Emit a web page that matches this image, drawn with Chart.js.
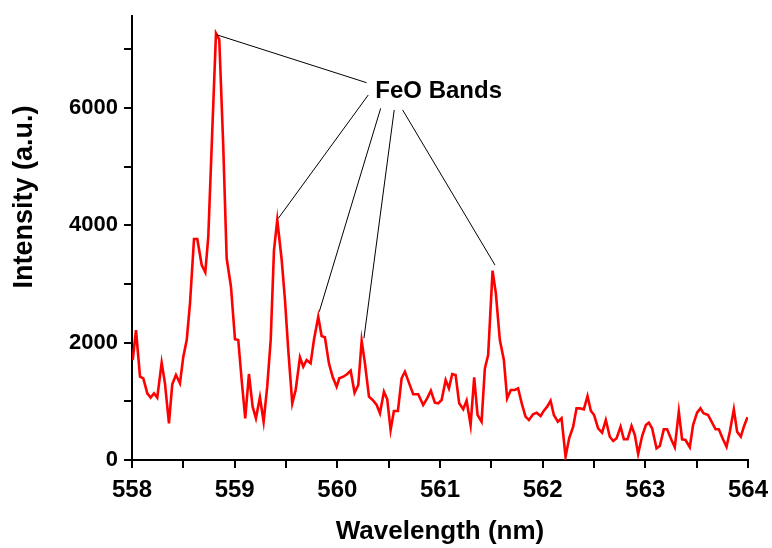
<!DOCTYPE html>
<html>
<head>
<meta charset="utf-8">
<script src="https://cdn.jsdelivr.net/npm/chart.js@4/dist/chart.umd.min.js"></script>
<style>
  html, body { margin: 0; padding: 0; background: #fff; }
  #wrap { width: 772px; height: 548px; }
</style>
</head>
<body>
<div id="wrap"><canvas id="grafico"></canvas></div>
<script>
// DATOS
const longitudes = [
  558.007, 558.039, 558.078, 558.110, 558.149, 558.182, 558.214, 558.246, 558.289, 558.321,
  558.360, 558.392, 558.428, 558.467, 558.500, 558.533, 558.565, 558.604, 558.636, 558.679,
  558.714, 558.743, 558.776, 558.818, 558.850, 558.889, 558.922, 558.964, 559.003, 559.035,
  559.068, 559.103, 559.139, 559.175, 559.207, 559.246, 559.282, 559.317, 559.351, 559.383,
  559.415, 559.458, 559.490, 559.522, 559.561, 559.594, 559.636, 559.668, 559.701, 559.740,
  559.772, 559.814, 559.847, 559.879, 559.918, 559.954, 559.993, 560.019, 560.058, 560.097,
  560.130, 560.168, 560.204, 560.237, 560.269, 560.308, 560.344, 560.383, 560.415, 560.454,
  560.486, 560.519, 560.551, 560.590, 560.626, 560.658, 560.700, 560.739, 560.788, 560.836,
  560.875, 560.911, 560.950, 560.982, 561.016, 561.055, 561.087, 561.119, 561.152, 561.187,
  561.226, 561.259, 561.298, 561.333, 561.366, 561.405, 561.437, 561.469, 561.512, 561.544,
  561.583, 561.622, 561.654, 561.690, 561.729, 561.761, 561.800, 561.833, 561.866, 561.907,
  561.941, 561.980, 562.012, 562.044, 562.077, 562.109, 562.148, 562.184, 562.223, 562.258,
  562.297, 562.330, 562.362, 562.401, 562.437, 562.469, 562.501, 562.540, 562.579, 562.615,
  562.654, 562.687, 562.720, 562.759, 562.791, 562.827, 562.866, 562.898, 562.930, 562.969,
  563.005, 563.034, 563.066, 563.109, 563.141, 563.180, 563.212, 563.255, 563.287, 563.326,
  563.358, 563.391, 563.433, 563.465, 563.504, 563.537, 563.567, 563.611, 563.645, 563.684,
  563.716, 563.752, 563.791, 563.823, 563.862, 563.894, 563.930, 563.962, 563.995
];
const intensidades = [
  1705, 2216, 1420, 1393, 1137, 1063, 1137, 1063, 1660, 1307,
  625, 1290, 1449, 1307, 1762, 2046, 2671, 3768, 3768, 3325,
  3200, 3807, 5342, 7275, 7173, 5342, 3439, 2955, 2058, 2046,
  1364, 711, 1466, 909, 711, 1069, 653, 1250, 2046, 3580,
  4092, 3410, 2728, 1876, 966, 1194, 1751, 1591, 1705, 1648,
  2046, 2443, 2114, 2092, 1648, 1420, 1250, 1393, 1420, 1466,
  1523, 1147, 1279, 2034, 1648, 1080, 1023, 938, 796, 1165,
  1035, 511, 835, 835, 1393, 1506, 1307, 1120, 1120, 938,
  1052, 1182, 977, 966, 1023, 1364, 1222, 1466, 1449, 966,
  864, 1011, 597, 1410, 767, 653, 1563, 1790, 3228, 2842,
  2046, 1705, 1052, 1194, 1194, 1222, 938, 739, 682, 779,
  807, 750, 841, 909, 1011, 767, 653, 711, 57, 370,
  568, 881, 881, 864, 1091, 841, 767, 540, 466, 682,
  397, 324, 370, 568, 353, 353, 580, 426, 102, 409,
  597, 636, 540, 199, 239, 523, 523, 341, 217, 824,
  353, 341, 217, 597, 807, 881, 796, 767, 653, 523,
  523, 370, 227, 483, 864, 483, 397, 580, 728
];
// ticks (mayores con etiqueta, menores sin etiqueta)
const ticksX = [558, 559, 560, 561, 562, 563, 564];
const ticksXMenores = [558.5, 559.5, 560.5, 561.5, 562.5, 563.5];
const ticksY = [0, 2000, 4000, 6000];
const ticksYMenores = [1000, 3000, 5000, 7000];

// anotacion "FeO Bands": texto y lineas hacia los picos (en unidades de datos)
const textoBandas = 'FeO Bands';
const posTexto = [560.987, 6291];
const lineasInicio = [[560.285, 6433], [560.301, 6223], [560.422, 5996], [560.554, 5968], [560.636, 5968]];
const lineasFin = [[558.825, 7250], [559.425, 4120], [559.824, 2528], [560.259, 2075], [561.535, 3325]];

const FUENTE = "'Liberation Sans', Arial, sans-serif";

const puntos = longitudes.map((x, i) => ({ x: x, y: intensidades[i] }));

// construir lista de ticks ordenada
const armarTicks = (mayores, menores) =>
  mayores.concat(menores).sort((a, b) => a - b).map(v => ({ value: v, major: mayores.includes(v) }));

// plugin para la anotacion y el titulo del eje Y
const anotaciones = {
  id: 'anotaciones',
  afterDraw(chart) {
    const ctx = chart.ctx;
    const sx = chart.scales.x, sy = chart.scales.y;
    ctx.save();
    ctx.strokeStyle = '#000';
    ctx.lineWidth = 1;
    lineasInicio.forEach((p, i) => {
      const q = lineasFin[i];
      ctx.beginPath();
      ctx.moveTo(sx.getPixelForValue(p[0]), sy.getPixelForValue(p[1]));
      ctx.lineTo(sx.getPixelForValue(q[0]), sy.getPixelForValue(q[1]));
      ctx.stroke();
    });
    ctx.fillStyle = '#000';
    ctx.font = 'bold 24px ' + FUENTE;
    ctx.textAlign = 'center';
    ctx.textBaseline = 'middle';
    ctx.fillText(textoBandas, sx.getPixelForValue(posTexto[0]), sy.getPixelForValue(posTexto[1]));

    // titulo eje Y
    ctx.translate(25, 197);
    ctx.rotate(-Math.PI / 2);
    ctx.font = 'bold 27px ' + FUENTE;
    ctx.fillText('Intensity (a.u.)', 0, 0);
    ctx.restore();
  }
};

const grafico = new Chart(document.getElementById('grafico'), {
  type: 'line',
  data: {
    datasets: [{
      label: 'Intensidad',
      data: puntos,
      borderColor: '#ff0000',
      borderWidth: 2.6,
      pointRadius: 0,
      tension: 0,
      fill: false
    }]
  },
  options: {
    responsive: true,
    maintainAspectRatio: false,
    animation: false,
    layout: { padding: { top: 16, right: 24, left: 0, bottom: 0 } },
    plugins: {
      legend: { display: false },
      tooltip: { enabled: false }
    },
    scales: {
      x: {
        type: 'linear',
        min: 558,
        max: 564,
        afterBuildTicks: s => { s.ticks = armarTicks(ticksX, ticksXMenores); },
        afterFit: s => { s.height = 88; s.paddingRight = 0; s.paddingLeft = 0; },
        border: { display: true, color: '#000', width: 2 },
        grid: {
          drawOnChartArea: false,
          drawTicks: true,
          tickLength: 8,
          color: '#000',
          lineWidth: 2
        },
        ticks: {
          autoSkip: false,
          color: '#000',
          padding: 8,
          maxRotation: 0,
          font: { family: FUENTE, size: 24, weight: 'bold' },
          callback: v => ticksX.includes(v) ? String(v) : ''
        },
        title: {
          display: true,
          text: 'Wavelength (nm)',
          color: '#000',
          font: { family: FUENTE, size: 26, weight: 'bold' },
          padding: { top: 0, bottom: 1 }
        }
      },
      y: {
        min: 0,
        max: 7570,
        afterBuildTicks: s => { s.ticks = armarTicks(ticksY, ticksYMenores); },
        afterFit: s => { s.width = 132; s.paddingTop = 0; s.paddingBottom = 0; },
        border: { display: true, color: '#000', width: 2 },
        grid: {
          drawOnChartArea: false,
          drawTicks: true,
          tickLength: 8,
          color: '#000',
          lineWidth: 2
        },
        ticks: {
          autoSkip: false,
          color: '#000',
          padding: 6,
          font: { family: FUENTE, size: 22, weight: 'bold' },
          callback: v => ticksY.includes(v) ? String(v) : ''
        }
      }
    }
  },
  plugins: [anotaciones]
});
</script>
</body>
</html>
